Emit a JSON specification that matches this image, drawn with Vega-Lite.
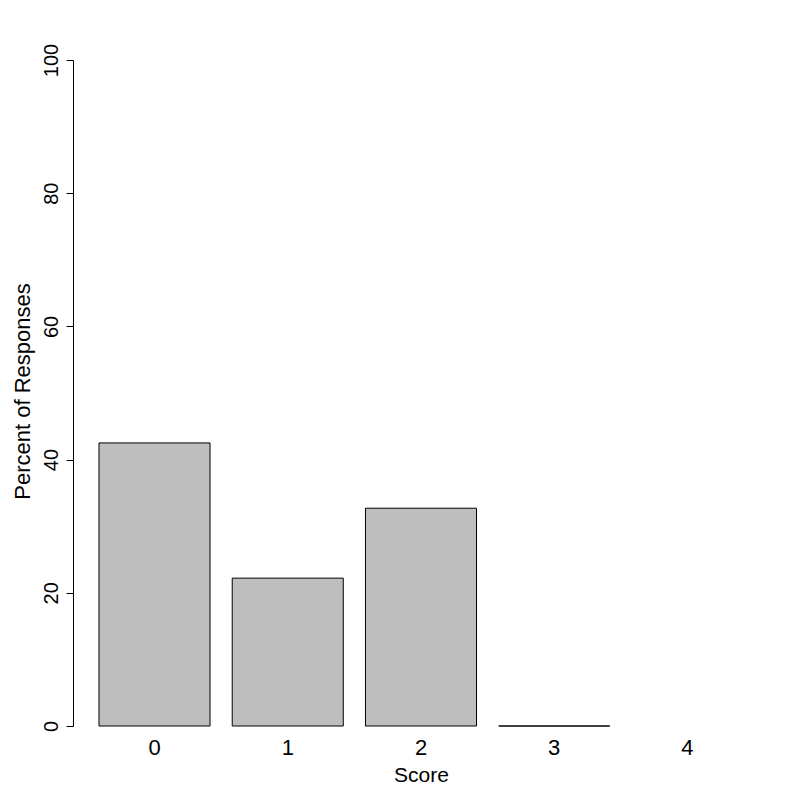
{
  "$schema": "https://vega.github.io/schema/vega-lite/v6.json",
  "autosize": {"type": "none"},
  "width": 696,
  "height": 666,
  "padding": {"left": 73, "top": 60, "right": 31, "bottom": 74},
  "background": "white",
  "config": {
    "view": {"stroke": null},
    "font": "Liberation Sans",
    "axis": {"labelFont": "Liberation Sans", "titleFont": "Liberation Sans", "labelColor": "black", "titleColor": "black", "titleFontWeight": "normal", "grid": false}
  },
  "data": {
    "values": [
      {"Score": "0", "Percent": 42.5},
      {"Score": "1", "Percent": 22.2},
      {"Score": "2", "Percent": 32.7},
      {"Score": "3", "Percent": 0},
      {"Score": "4", "Percent": null}
    ]
  },
  "mark": {"type": "bar", "fill": "#bebebe", "stroke": "black", "strokeWidth": 1},
  "encoding": {
    "x": {
      "field": "Score",
      "type": "ordinal",
      "scale": {"domain": ["0", "1", "2", "3", "4"], "paddingInner": 0.1667, "paddingOuter": 0.195},
      "axis": {
        "title": "Score",
        "labelAngle": 0,
        "domain": false,
        "ticks": false,
        "tickSize": 0,
        "labelFontSize": 22,
        "labelBaseline": "alphabetic",
        "labelPadding": 28,
        "titleFontSize": 21,
        "titleBaseline": "alphabetic",
        "titleY": 55,
        "titleX": 348,
        "titleAlign": "center"
      }
    },
    "y": {
      "field": "Percent",
      "type": "quantitative",
      "scale": {"domain": [0, 100], "nice": false},
      "axis": {
        "title": "Percent of Responses",
        "values": [0, 20, 40, 60, 80, 100],
        "domainColor": "black",
        "tickColor": "black",
        "tickSize": 7,
        "labelAngle": 270,
        "labelAlign": "center",
        "labelBaseline": "alphabetic",
        "labelPadding": 9,
        "labelFontSize": 20,
        "labelFlush": false,
        "labelOverlap": false,
        "titleFontSize": 22,
        "titleAngle": 270,
        "titleAlign": "center",
        "titleBaseline": "alphabetic",
        "titleX": -44,
        "titleY": 331
      }
    }
  }
}
